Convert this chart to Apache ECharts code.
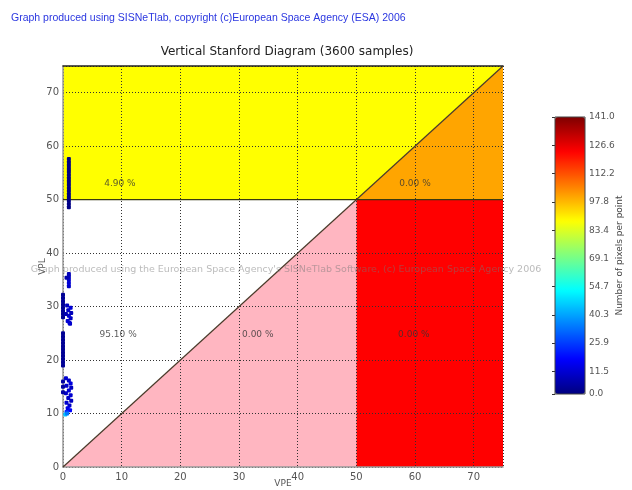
<!DOCTYPE html>
<html><head><meta charset="utf-8">
<script src="https://cdn.jsdelivr.net/npm/echarts@6/dist/echarts.min.js"></script>
<style>html,body{margin:0;padding:0;background:#fff}#c{width:632px;height:490px}</style>
</head><body><div id="c"></div>
<script>
// Region polygons (data coords: [VPE, VPL])
const regionYellow = [[0,50],[50,50],[75,75],[0,75]];
const regionOrange = [[50,50],[75,50],[75,75]];
const regionRed = [[50,0],[75,0],[75,50],[50,50]];
const regionPink = [[0,0],[50,0],[50,50]];
const regionColors = ['#FFFF00','#FFA500','#FF0000','#FFB6C1'];

// Boundary lines
const diagonalLine = [[0,0],[75,75]];
const alarmLine = [[0,50],[75,50]];

// Percentage labels [x, y, text]
const pctLabels = [[9.7,53,'4.90 %'],[60,53,'0.00 %'],[9.4,24.8,'95.10 %'],[33.2,24.8,'0.00 %'],[59.8,24.8,'0.00 %']];

// Scatter samples: VPE, VPL, number of pixels per point
const sampleX = [1.0,1.0,1.0,1.0,1.0,1.0,1.0,1.0,1.0,1.0,1.0,1.0,1.0,1.0,1.0,1.0,
  1.0,1.0,1.0,1.0,1.0,0.6,
  0,0,0,0,0,0,0,0,0,0,0,
  0,0,0,0,0,0,0,0,
  1.2,0.8,1.3,1.0,1.4,0.9,1.3,0.7,1.1,0.5,
  0.5,1.0,1.3,0.6,1.4,1.0,0.5,1.3,0.9,1.4,0.6,1.1,0.8,1.2,0.6,0,0,0,
  0.4,0.7];
const sampleY = [48.6,49.2,49.8,50.4,51.0,51.6,52.2,52.8,53.4,54.0,54.6,55.2,55.8,56.4,57.0,57.6,
  33.8,34.4,35.0,35.6,36.1,35.4,
  19.0,19.6,20.2,20.8,21.4,22.0,22.6,23.2,23.8,24.4,25.0,
  28.0,28.6,29.2,29.8,30.4,31.0,31.6,32.2,
  26.8,27.3,27.8,28.3,28.8,29.3,29.8,30.2,27.0,28.6,
  16.6,16.2,15.6,15.2,14.8,14.3,13.8,13.4,12.9,12.4,12.0,11.5,11.0,10.6,10.3,15.0,16.0,14.0,
  9.8,10.0];
const sampleCount = [1,1,1,1,1,1,1,1,1,1,1,1,1,1,1,1,
  10,12,11,9,8,6,
  3,3,3,3,3,3,3,3,3,3,3,
  3,3,3,3,3,3,3,3,
  10,12,9,11,8,10,12,9,11,7,
  11,10,13,10,9,12,10,11,10,9,11,10,14,18,22,5,5,5,
  45,34];

const cbarTicks = [0.0,11.5,25.9,40.3,54.7,69.1,83.4,97.8,112.2,126.6,141.0];

const regions = [regionYellow, regionOrange, regionRed, regionPink];
const samples = sampleX.map((x,i)=>[x, sampleY[i], sampleCount[i]]);
const jet = ['#00007F','#0000FF','#007FFF','#00FFFF','#7FFF7F','#FFFF00','#FF7F00','#FF0000','#7F0000'];
const FONT = 'DejaVu Sans';

const chart = echarts.init(document.getElementById('c'));
chart.setOption({
  animation:false,
  backgroundColor:'#fff',
  title:[
    {text:'Graph produced using SISNeTlab, copyright (c)European Space Agency (ESA) 2006', left:6, top:8,
     textStyle:{color:'#2a36e0', fontSize:10.5, fontWeight:'normal', fontFamily:'Liberation Sans'}},
    {text:'Vertical Stanford Diagram (3600 samples)', left:282, textAlign:'center', top:41,
     textStyle:{color:'#222', fontSize:12, fontWeight:'normal', fontFamily:FONT}},
    {text:"Graph produced using the European Space Agency's SISNeTlab Software, (c) European Space Agency 2006", left:281, textAlign:'center', top:260, z:20,
     textStyle:{color:'rgba(120,120,120,0.5)', fontSize:9.5, fontWeight:'normal', fontFamily:FONT}}
  ],
  grid:[
    {left:63, top:66, width:440, height:401, containLabel:false, outerBoundsMode:'none'},
    {left:555, top:117, width:30, height:277, show:true, borderColor:'#444', borderWidth:1, backgroundColor:'transparent', z:5, outerBoundsMode:'none'}
  ],
  xAxis:[
    {type:'value', gridIndex:0, min:0, max:75, interval:10, name:'VPE', nameLocation:'middle', nameGap:12, nameMoveOverlap:false,
     nameTextStyle:{color:'#555', fontSize:9, fontFamily:FONT},
     axisLine:{show:true, lineStyle:{color:'#999', width:1.5}}, axisTick:{show:false},
     axisLabel:{color:'#555', fontSize:10, fontFamily:FONT, margin:5, showMaxLabel:false},
     splitLine:{show:true, lineStyle:{color:'#333', type:[1,2], width:1}}},
    {type:'value', gridIndex:0, position:'top', min:0, max:75, axisLine:{show:true, onZero:false, lineStyle:{color:'#222', width:1.5}},
     axisTick:{show:false}, axisLabel:{show:false}, splitLine:{show:false}},
    {type:'value', gridIndex:1, show:false, min:0, max:1}
  ],
  yAxis:[
    {type:'value', gridIndex:0, min:0, max:75, interval:10, name:'VPL', nameLocation:'middle', nameGap:16, nameRotate:90, nameMoveOverlap:false,
     nameTextStyle:{color:'#555', fontSize:9, fontFamily:FONT},
     axisLine:{show:true, lineStyle:{color:'#999', width:1.5}}, axisTick:{show:false},
     axisLabel:{color:'#555', fontSize:10, fontFamily:FONT, margin:4, showMaxLabel:false},
     splitLine:{show:true, lineStyle:{color:'#333', type:[1,2], width:1}}},
    {type:'value', gridIndex:1, position:'right', min:0, max:141,
     name:'Number of pixels per point', nameLocation:'middle', nameGap:30, nameRotate:90, nameMoveOverlap:false,
     nameTextStyle:{color:'#444', fontSize:9, fontFamily:FONT},
     axisLine:{show:false},
     axisTick:{show:true, inside:true, length:3, customValues:cbarTicks, lineStyle:{color:'#333'}},
     axisLabel:{show:true, color:'#555', fontSize:9, fontFamily:FONT, margin:4, customValues:cbarTicks,
       formatter:v=>v.toFixed(1)},
     splitLine:{show:false}}
  ],
  visualMap:{
    type:'continuous', min:0, max:141, dimension:2, seriesIndex:3, calculable:false,
    left:555, top:117, itemWidth:30, itemHeight:277, padding:0, text:null, showLabel:false,
    inRange:{color:jet}, orient:'vertical'
  },
  series:[
    {type:'custom', xAxisIndex:0, yAxisIndex:0, z:-1, silent:true, data:regions.map((r,i)=>i),
     renderItem:(params, api)=>{
       const poly = regions[params.dataIndex].map(p=>api.coord(p));
       return {type:'polygon', shape:{points:poly}, style:{fill:regionColors[params.dataIndex]}};
     }},
    {type:'line', xAxisIndex:0, yAxisIndex:0, data:diagonalLine, symbol:'none', silent:true, z:3,
     lineStyle:{color:'#4a3a2a', width:1.2}},
    {type:'line', xAxisIndex:0, yAxisIndex:0, data:alarmLine, symbol:'none', silent:true, z:3,
     lineStyle:{color:'#3a3a10', width:1.2}},
    {type:'scatter', xAxisIndex:0, yAxisIndex:0, data:samples, symbol:'roundRect', symbolSize:[4,4], z:4, silent:true,
     itemStyle:{opacity:1}},
    {type:'scatter', xAxisIndex:0, yAxisIndex:0, data:pctLabels, symbolSize:0, z:6, silent:true,
     label:{show:true, position:'inside', formatter:p=>p.data[2], color:'#333', fontSize:9, fontFamily:FONT}}
  ]
});
</script></body></html>
